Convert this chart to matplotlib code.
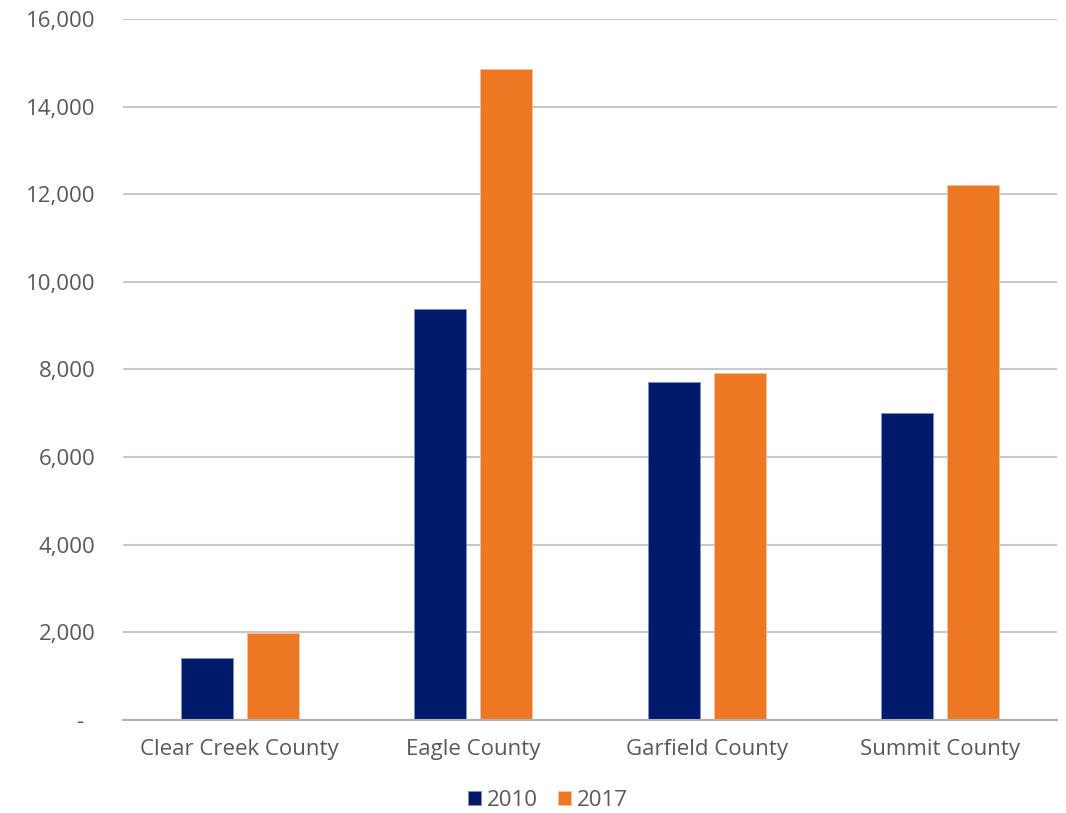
import matplotlib
matplotlib.use("Agg")
import matplotlib.pyplot as plt
import numpy as np
from matplotlib.ticker import FuncFormatter

categories = ["Clear Creek County", "Eagle County", "Garfield County", "Summit County"]
series_names = ["2010", "2017"]
values_2010 = [1400, 9380, 7720, 7000]
values_2017 = [1990, 14850, 7920, 12220]
yticks = [0, 2000, 4000, 6000, 8000, 10000, 12000, 14000, 16000]

navy = "#001A6B"
orange = "#ED7722"
text_color = "#595959"

plt.rcParams['font.family'] = ['Open Sans', 'DejaVu Sans']

fig = plt.figure(figsize=(10.66, 8.13), dpi=100)
ax = fig.add_axes([123/1066, 1 - 719.7/813, (1057-123)/1066, (719.7-19)/813])

x = np.arange(len(categories))
w = 0.223
off = 0.142
ax.bar(x - off, values_2010, width=w, color=navy, label=series_names[0], zorder=3,
       edgecolor="#8090c0", linewidth=0.6)
ax.bar(x + off, values_2017, width=w, color=orange, label=series_names[1], zorder=3,
       edgecolor="#f0c0a0", linewidth=0.6)

ax.set_xlim(-0.5, len(categories) - 0.5)
ax.set_ylim(0, 16000)
ax.set_yticks(yticks)
ax.yaxis.set_major_formatter(FuncFormatter(lambda v, p: "-  " if v == 0 else f"{int(v):,}"))
ax.grid(axis="y", color="#C8C8C8", linewidth=1.5, zorder=0)
ax.set_axisbelow(True)
for s in ["top", "right", "left"]:
    ax.spines[s].set_visible(False)
ax.spines["bottom"].set_color("#B0B0B0")
ax.spines["bottom"].set_linewidth(1.5)
ax.spines["bottom"].set_zorder(4)

ax.set_xticks(x)
ax.set_xticklabels(categories)
ax.tick_params(axis="both", length=0, labelsize=16, labelcolor=text_color)
ax.tick_params(axis="y", pad=20)
ax.tick_params(axis="x", pad=14)

leg = fig.legend(loc="center", bbox_to_anchor=(548/1066, 1 - 800/813), ncol=2, frameon=False,
                 fontsize=16, handlelength=0.6, handleheight=0.6, handletextpad=0.25,
                 columnspacing=0.9, labelcolor=text_color)

fig.savefig("out.png", dpi=100, facecolor="white")
